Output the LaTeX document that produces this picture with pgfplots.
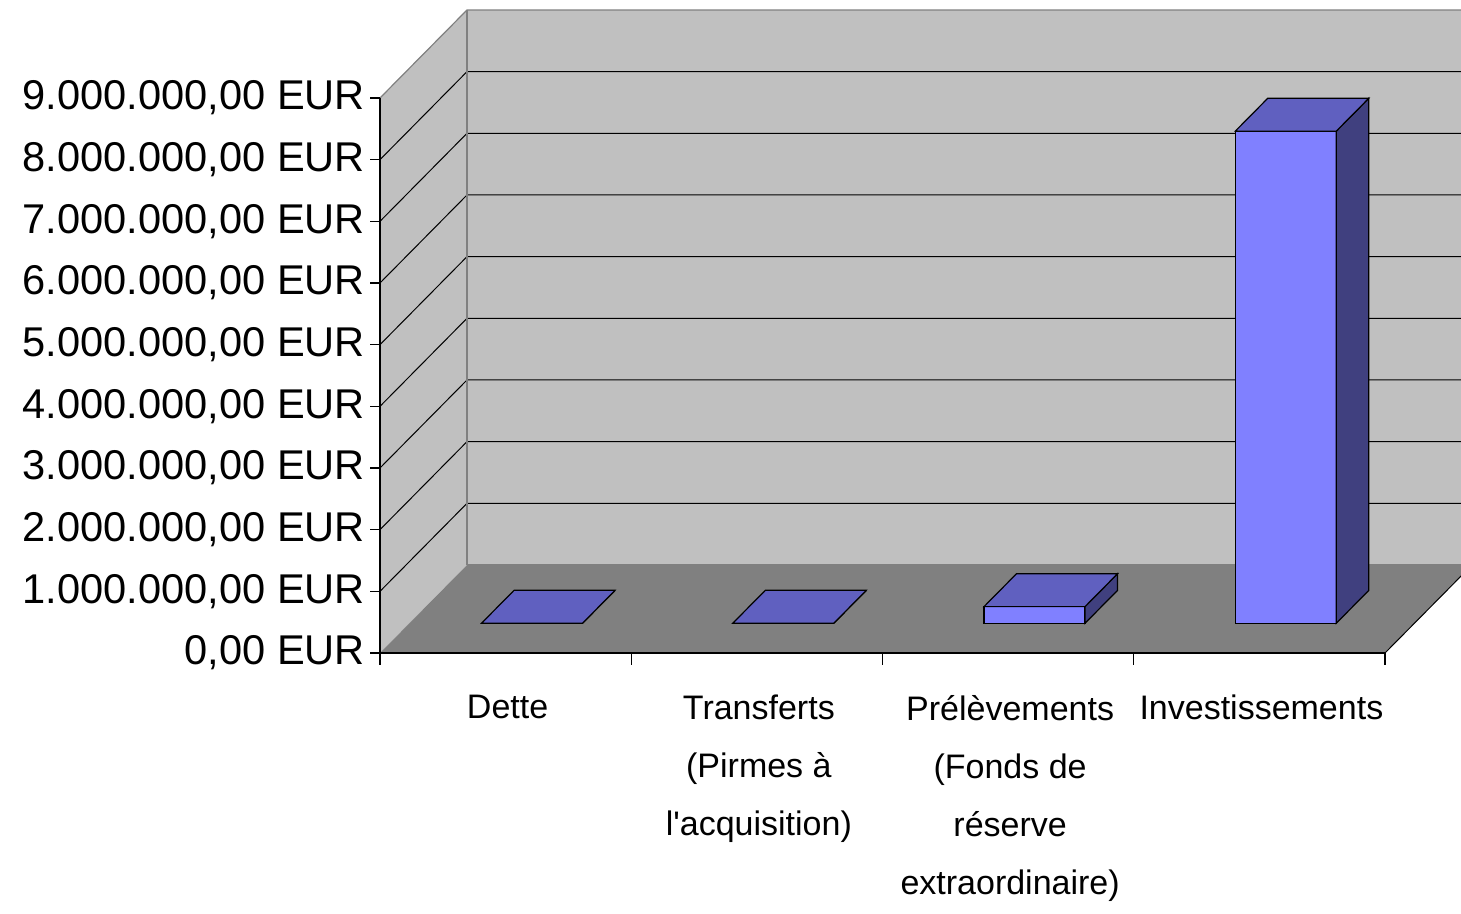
\documentclass[border=0pt]{standalone}
\usepackage{pgfplots}
\pgfplotsset{compat=1.18}
\usepackage{fontspec}
\setmainfont{Liberation Sans}
\definecolor{wall}{HTML}{C0C0C0}
\definecolor{floorc}{HTML}{808080}
\definecolor{edgec}{HTML}{808080}
\definecolor{barfront}{HTML}{8080FF}
\definecolor{bartop}{HTML}{6060C0}
\definecolor{barside}{HTML}{40407F}
\begin{document}
\begin{tikzpicture}
\begin{axis}[
  x={(125.625pt,0pt)}, y={(43.5pt,44pt)}, z={(0pt,30.8333pt)},
  xmin=0, xmax=4, ymin=0, ymax=1, zmin=0, zmax=9,
  axis lines*=left,
  axis on top,
  clip=false,
  y axis line style={draw=none},
  axis line style={black, line width=0.6pt},
  ytick=\empty,
  xtick={0.5,1.5,2.5,3.5},
  xticklabels={Dette, {Transferts\\(Pirmes à\\l\textquotesingle acquisition)}, {Prélèvements\\(Fonds de\\réserve\\extraordinaire)}, Investissements},
  ztick={0,1,2,3,4,5,6,7,8,9},
  zticklabels={{0,00 EUR},{1.000.000,00 EUR},{2.000.000,00 EUR},{3.000.000,00 EUR},{4.000.000,00 EUR},{5.000.000,00 EUR},{6.000.000,00 EUR},{7.000.000,00 EUR},{8.000.000,00 EUR},{9.000.000,00 EUR}},
  major tick length=0pt,
  xticklabel style={font=\fontsize{17}{29}\selectfont, align=center, anchor=north, yshift=-17.5pt, xshift=1pt},
  zticklabel style={font=\fontsize{20.8}{24}\selectfont, anchor=east, xshift=-4pt},
]
% walls and floor
\fill[wall] (axis cs:0,0,0) -- (axis cs:0,1,0) -- (axis cs:0,1,9) -- (axis cs:0,0,9) -- cycle;
\fill[wall] (axis cs:0,1,0) -- (axis cs:4,1,0) -- (axis cs:4,1,9) -- (axis cs:0,1,9) -- cycle;
\fill[floorc] (axis cs:0,0,0) -- (axis cs:4,0,0) -- (axis cs:4,1,0) -- (axis cs:0,1,0) -- cycle;
\pgfplotsinvokeforeach{1,...,8}{
  \draw[black, line width=0.5pt] (axis cs:0,0,#1) -- (axis cs:0,1,#1) -- (axis cs:4,1,#1);
}
\draw[edgec, line width=0.6pt] (axis cs:0,0,9) -- (axis cs:0,1,9) -- (axis cs:4,1,9);
\draw[edgec, line width=0.6pt] (axis cs:0,1,0) -- (axis cs:0,1,9);
\draw[edgec, line width=0.6pt] (axis cs:0,1,0) -- (axis cs:4,1,0);
\draw[black, line width=0.5pt] (axis cs:4,0,0) -- (axis cs:4,1,0);
% tick marks
\pgfplotsinvokeforeach{0,...,9}{
  \draw[black, line width=0.6pt] (axis cs:0,0,#1) -- ++(-5pt,0pt);
}
\pgfplotsinvokeforeach{0,...,4}{
  \draw[black, line width=0.6pt] (axis cs:#1,0,0) -- ++(0pt,-6pt);
}
% Dette (0)
\addplot3[fill=barfront, draw=black, line width=0.6pt] coordinates {(0.287,0.338,0) (0.689,0.338,0) (0.689,0.338,0) (0.287,0.338,0)} -- cycle;
\addplot3[fill=barside, draw=black, line width=0.6pt] coordinates {(0.689,0.338,0) (0.689,0.712,0) (0.689,0.712,0) (0.689,0.338,0)} -- cycle;
\addplot3[fill=bartop, draw=black, line width=0.6pt] coordinates {(0.287,0.338,0) (0.689,0.338,0) (0.689,0.712,0) (0.287,0.712,0)} -- cycle;
% Transferts (0)
\addplot3[fill=barfront, draw=black, line width=0.6pt] coordinates {(1.287,0.338,0) (1.689,0.338,0) (1.689,0.338,0) (1.287,0.338,0)} -- cycle;
\addplot3[fill=barside, draw=black, line width=0.6pt] coordinates {(1.689,0.338,0) (1.689,0.712,0) (1.689,0.712,0) (1.689,0.338,0)} -- cycle;
\addplot3[fill=bartop, draw=black, line width=0.6pt] coordinates {(1.287,0.338,0) (1.689,0.338,0) (1.689,0.712,0) (1.287,0.712,0)} -- cycle;
% Prelevements (0.27 M)
\addplot3[fill=barfront, draw=black, line width=0.6pt] coordinates {(2.287,0.338,0) (2.689,0.338,0) (2.689,0.338,0.27) (2.287,0.338,0.27)} -- cycle;
\addplot3[fill=barside, draw=black, line width=0.6pt] coordinates {(2.689,0.338,0) (2.689,0.712,0) (2.689,0.712,0.27) (2.689,0.338,0.27)} -- cycle;
\addplot3[fill=bartop, draw=black, line width=0.6pt] coordinates {(2.287,0.338,0.27) (2.689,0.338,0.27) (2.689,0.712,0.27) (2.287,0.712,0.27)} -- cycle;
% Investissements (7.98 M)
\addplot3[fill=barfront, draw=black, line width=0.6pt] coordinates {(3.287,0.338,0) (3.689,0.338,0) (3.689,0.338,7.98) (3.287,0.338,7.98)} -- cycle;
\addplot3[fill=barside, draw=black, line width=0.6pt] coordinates {(3.689,0.338,0) (3.689,0.712,0) (3.689,0.712,7.98) (3.689,0.338,7.98)} -- cycle;
\addplot3[fill=bartop, draw=black, line width=0.6pt] coordinates {(3.287,0.338,7.98) (3.689,0.338,7.98) (3.689,0.712,7.98) (3.287,0.712,7.98)} -- cycle;
\coordinate (O) at (axis cs:0,0,0);
\end{axis}
\pgfresetboundingbox
\path[use as bounding box] ([shift={(-190pt,-130.5pt)}]O) rectangle ([shift={(540.5pt,326.5pt)}]O);
\end{tikzpicture}
\end{document}
